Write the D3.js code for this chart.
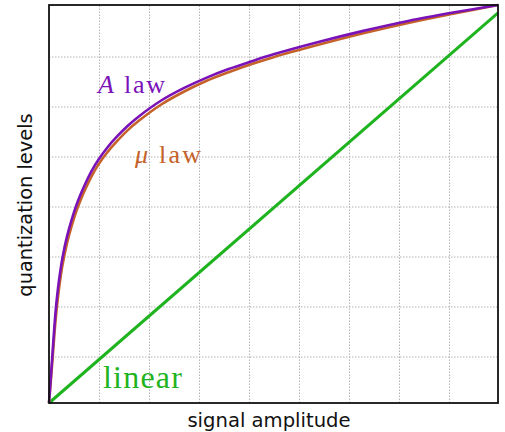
<!DOCTYPE html>
<html><head><meta charset="utf-8">
<script src="https://cdn.jsdelivr.net/npm/d3@7"></script>
<style>body{margin:0;background:#fff}</style>
</head><body>
<svg id="chart" width="505" height="432"></svg>
<script>
// signal amplitude (0..1) and quantization level (0..1)
const curveX = [0, 0.0025, 0.005, 0.0075, 0.0114, 0.015, 0.02, 0.025, 0.03, 0.04, 0.05, 0.06, 0.07, 0.08, 0.095, 0.11, 0.13, 0.15, 0.175, 0.2, 0.25, 0.3, 0.35, 0.4, 0.45, 0.5, 0.6, 0.7, 0.8, 0.9, 1.0];
const aLawY  = [0, 0.04, 0.08, 0.12, 0.183, 0.234, 0.288, 0.330, 0.365, 0.418, 0.459, 0.494, 0.523, 0.549, 0.583, 0.611, 0.642, 0.668, 0.696, 0.720, 0.760, 0.791, 0.817, 0.839, 0.858, 0.876, 0.907, 0.935, 0.960, 0.981, 1.0];
const muLawY = [0, 0.033, 0.068, 0.105, 0.163, 0.212, 0.266, 0.310, 0.346, 0.401, 0.443, 0.479, 0.509, 0.535, 0.570, 0.599, 0.630, 0.656, 0.685, 0.709, 0.750, 0.782, 0.809, 0.831, 0.851, 0.869, 0.900, 0.929, 0.955, 0.978, 1.0];
const linearX = [0, 1];
const linearY = [0, 0.98];
const xGrid = [0.1114, 0.2227, 0.3341, 0.4454, 0.5568, 0.6682, 0.7795, 0.8909];
const yGrid = [0.1168, 0.2425, 0.3681, 0.4937, 0.6193, 0.7450, 0.8706];
const labels = {a: "law", mu: "law", lin: "linear", xTitle: "signal amplitude", yTitle: "quantization levels"};

const svg = d3.select("#chart");
const L = 49, R = 498, T = 5, B = 403;
const x = d3.scaleLinear().domain([0, 1]).range([L, R]);
const y = d3.scaleLinear().domain([0, 1]).range([B, T]);

// grid
svg.append("g")
  .attr("transform", `translate(0,${B})`)
  .call(d3.axisBottom(x).tickValues(xGrid).tickSize(-(B - T)).tickFormat(""))
  .call(g => g.select(".domain").remove())
  .call(g => g.selectAll("line").attr("stroke", "#b4b4b4").attr("stroke-width", 1).attr("stroke-dasharray", "1.5,1.5"));
svg.append("g")
  .attr("transform", `translate(${L},0)`)
  .call(d3.axisLeft(y).tickValues(yGrid).tickSize(-(R - L)).tickFormat(""))
  .call(g => g.select(".domain").remove())
  .call(g => g.selectAll("line").attr("stroke", "#b4b4b4").attr("stroke-width", 1).attr("stroke-dasharray", "1.5,1.5"));

const line = d3.line().x(d => x(d[0])).y(d => y(d[1])).curve(d3.curveCatmullRom.alpha(0.5));
const zip = (a, b) => a.map((v, i) => [v, b[i]]);

svg.append("path").datum(zip(linearX, linearY)).attr("d", line)
  .attr("fill", "none").attr("stroke", "#1fb41f").attr("stroke-width", 3);
svg.append("path").datum(zip(curveX, muLawY)).attr("d", line)
  .attr("fill", "none").attr("stroke", "#c4622a").attr("stroke-width", 2.6);
svg.append("path").datum(zip(curveX, aLawY)).attr("d", line)
  .attr("fill", "none").attr("stroke", "#7a12b8").attr("stroke-width", 2.6);

// frame
svg.append("rect").attr("x", L).attr("y", T).attr("width", R - L).attr("height", B - T)
  .attr("fill", "none").attr("stroke", "#111").attr("stroke-width", 1.8);

// curve labels
const serif = "'Liberation Serif', 'Times New Roman', serif";
const aT = svg.append("text").attr("x", 98).attr("y", 93).attr("fill", "#7a12b8")
  .attr("font-family", serif).attr("font-size", 26).attr("letter-spacing", 1.8);
aT.append("tspan").attr("font-style", "italic").text("A");
aT.append("tspan").text(" " + labels.a);
const mT = svg.append("text").attr("x", 135).attr("y", 163).attr("fill", "#c4622a")
  .attr("font-family", serif).attr("font-size", 26).attr("letter-spacing", 2.2);
mT.append("tspan").attr("font-style", "italic").text("μ");
mT.append("tspan").text(" " + labels.mu);
svg.append("text").attr("x", 103).attr("y", 388).attr("fill", "#1fb41f")
  .attr("font-family", serif).attr("font-size", 32).attr("letter-spacing", 1.2).text(labels.lin);

// axis titles
const sans = "'DejaVu Sans', sans-serif";
svg.append("text").attr("x", 269).attr("y", 427).attr("text-anchor", "middle")
  .attr("font-family", sans).attr("font-size", 19.6).attr("fill", "#111").text(labels.xTitle);
svg.append("text").attr("transform", "translate(32,205) rotate(-90)").attr("text-anchor", "middle")
  .attr("font-family", sans).attr("font-size", 19.4).attr("fill", "#111").text(labels.yTitle);
</script>
</body></html>
